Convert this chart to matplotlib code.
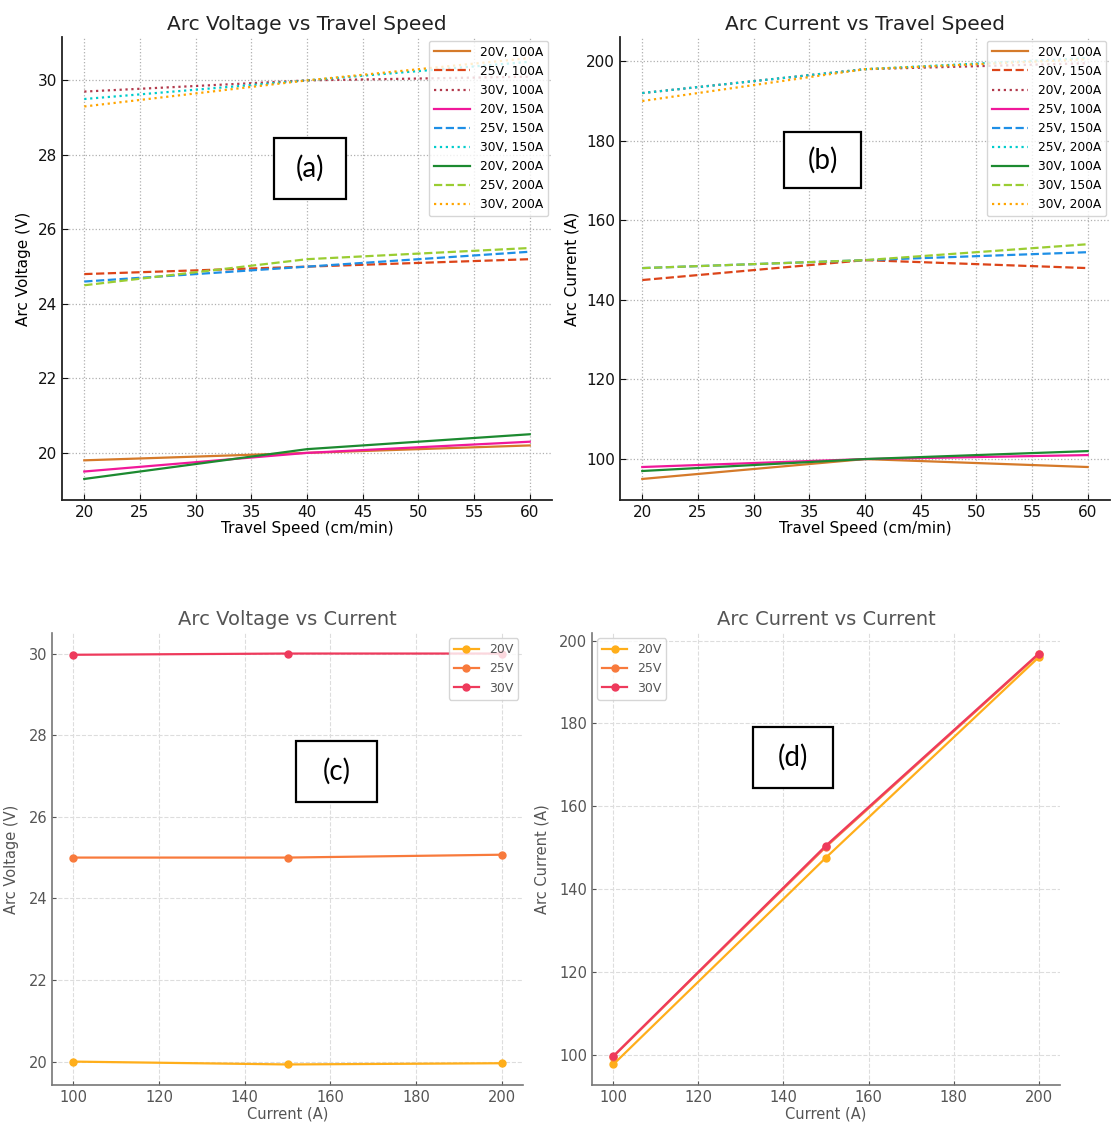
import matplotlib.pyplot as plt
from matplotlib.patches import Rectangle

# ---- data ----
speeds = [20, 40, 60]

# panel (a): arc voltage vs travel speed
volt_labels = ["20V, 100A", "25V, 100A", "30V, 100A",
               "20V, 150A", "25V, 150A", "30V, 150A",
               "20V, 200A", "25V, 200A", "30V, 200A"]
volt_values = [
    [19.8, 20.0, 20.2],
    [24.8, 25.0, 25.2],
    [29.7, 30.0, 30.1],
    [19.5, 20.0, 20.3],
    [24.6, 25.0, 25.4],
    [29.5, 30.0, 30.5],
    [19.3, 20.1, 20.5],
    [24.5, 25.2, 25.5],
    [29.3, 30.0, 30.6],
]

# panel (b): arc current vs travel speed
curr_labels = ["20V, 100A", "20V, 150A", "20V, 200A",
               "25V, 100A", "25V, 150A", "25V, 200A",
               "30V, 100A", "30V, 150A", "30V, 200A"]
curr_values = [
    [95.0, 100.0, 98.0],
    [145.0, 150.0, 148.0],
    [192.0, 198.0, 199.5],
    [98.0, 100.0, 101.0],
    [148.0, 150.0, 152.0],
    [192.0, 198.0, 200.8],
    [97.0, 100.0, 102.0],
    [148.0, 150.0, 154.0],
    [190.0, 198.0, 200.5],
]

# panels (c) and (d): vs set current
currents = [100, 150, 200]
voltage_groups = ["20V", "25V", "30V"]
arc_v = [
    [20.0, 19.93, 19.96],
    [25.0, 25.0, 25.07],
    [29.97, 30.0, 30.0],
]
arc_i = [
    [97.6, 147.6, 196.0],
    [99.5, 150.2, 196.7],
    [99.6, 150.5, 196.9],
]

# ---- styles ----
line_colors = ["#d57a2a", "#dc4419", "#b23a4c",
               "#f0189a", "#1e8fe6", "#00cccc",
               "#1c8a30", "#9acd32", "#ffa500"]
line_styles = ["-", "--", ":"] * 3
group_colors = ["#ffae1a", "#f87a3c", "#ee3a5c"]

fig = plt.figure(figsize=(11.12, 11.24), dpi=100)
W, H = 1112, 1124


def px_axes(x0, y0, x1, y1):
    return fig.add_axes([x0 / W, 1 - y1 / H, (x1 - x0) / W, (y1 - y0) / H])


def style_top(ax):
    for s in ["top", "right"]:
        ax.spines[s].set_visible(False)
    for s in ["left", "bottom"]:
        ax.spines[s].set_color("#222222")
        ax.spines[s].set_linewidth(1.3)
    ax.grid(True, linestyle=":", color="#b0b0b0", linewidth=0.9)
    ax.tick_params(direction="in", labelsize=11, colors="#111111", length=4)


def style_bottom(ax):
    for s in ["top", "right"]:
        ax.spines[s].set_visible(False)
    for s in ["left", "bottom"]:
        ax.spines[s].set_color("#777777")
        ax.spines[s].set_linewidth(1.2)
    ax.grid(True, linestyle="--", color="#dddddd", linewidth=0.8)
    ax.tick_params(direction="in", labelsize=10.5, colors="#555555", length=3)


# (a)
ax_a = px_axes(62, 37, 552, 500)
for vals, lab, c, ls in zip(volt_values, volt_labels, line_colors, line_styles):
    ax_a.plot(speeds, vals, color=c, linestyle=ls, linewidth=1.6, label=lab)
ax_a.set_xticks(range(20, 61, 5))
ax_a.set_yticks(range(20, 31, 2))
ax_a.set_title("Arc Voltage vs Travel Speed", fontsize=14.5, color="#222222", pad=5)
ax_a.set_xlabel("Travel Speed (cm/min)", fontsize=11, labelpad=1)
ax_a.set_ylabel("Arc Voltage (V)", fontsize=11, labelpad=5)
style_top(ax_a)
ax_a.legend(loc="upper right", fontsize=8.8, handlelength=3, labelspacing=0.5,
            borderaxespad=0.3)

# (b)
ax_b = px_axes(620, 37, 1110, 500)
for vals, lab, c, ls in zip(curr_values, curr_labels, line_colors, line_styles):
    ax_b.plot(speeds, vals, color=c, linestyle=ls, linewidth=1.6, label=lab)
ax_b.set_xticks(range(20, 61, 5))
ax_b.set_yticks(range(100, 201, 20))
ax_b.set_title("Arc Current vs Travel Speed", fontsize=14.5, color="#222222", pad=5)
ax_b.set_xlabel("Travel Speed (cm/min)", fontsize=11, labelpad=1)
ax_b.set_ylabel("Arc Current (A)", fontsize=11, labelpad=5)
style_top(ax_b)
ax_b.legend(loc="upper right", fontsize=8.8, handlelength=3, labelspacing=0.5,
            borderaxespad=0.3)

# (c)
ax_c = px_axes(52, 633, 523, 1085)
for vals, lab, c in zip(arc_v, voltage_groups, group_colors):
    ax_c.plot(currents, vals, color=c, marker="o", markersize=5, linewidth=1.6,
              label=lab)
ax_c.set_xticks(range(100, 201, 20))
ax_c.set_yticks(range(20, 31, 2))
ax_c.set_title("Arc Voltage vs Current", fontsize=14, color="#555555", pad=6)
ax_c.set_xlabel("Current (A)", fontsize=10.5, color="#555555", labelpad=1)
ax_c.set_ylabel("Arc Voltage (V)", fontsize=10.5, color="#555555", labelpad=7)
style_bottom(ax_c)
ax_c.legend(loc="upper right", fontsize=9, labelcolor="#555555", borderaxespad=0.4)

# (d)
ax_d = px_axes(592, 633, 1060, 1085)
for vals, lab, c in zip(arc_i, voltage_groups, group_colors):
    ax_d.plot(currents, vals, color=c, marker="o", markersize=5, linewidth=1.6,
              label=lab)
ax_d.set_xticks(range(100, 201, 20))
ax_d.set_yticks(range(100, 201, 20))
ax_d.set_title("Arc Current vs Current", fontsize=14, color="#555555", pad=6)
ax_d.set_xlabel("Current (A)", fontsize=10.5, color="#555555", labelpad=1)
ax_d.set_ylabel("Arc Current (A)", fontsize=10.5, color="#555555", labelpad=7)
style_bottom(ax_d)
ax_d.legend(loc="upper left", fontsize=9, labelcolor="#555555", borderaxespad=0.4)

# panel tags drawn as boxed labels
tag_boxes = [("(a)", 274, 138, 346, 199),
             ("(b)", 784, 132, 861, 188),
             ("(c)", 296, 741, 377, 802),
             ("(d)", 753, 727, 833, 788)]
for tag, x0, y0, x1, y1 in tag_boxes:
    fig.patches.append(Rectangle((x0 / W, 1 - y1 / H), (x1 - x0) / W, (y1 - y0) / H,
                                 transform=fig.transFigure, facecolor="white",
                                 edgecolor="black", linewidth=1.6, zorder=10))
    fig.text((x0 + x1) / 2 / W, 1 - (y0 + y1) / 2 / H, tag, ha="center",
             va="center", fontsize=20, family=["Lato", "DejaVu Sans"], zorder=11)

fig.savefig("out.png", dpi=100, facecolor="white")
